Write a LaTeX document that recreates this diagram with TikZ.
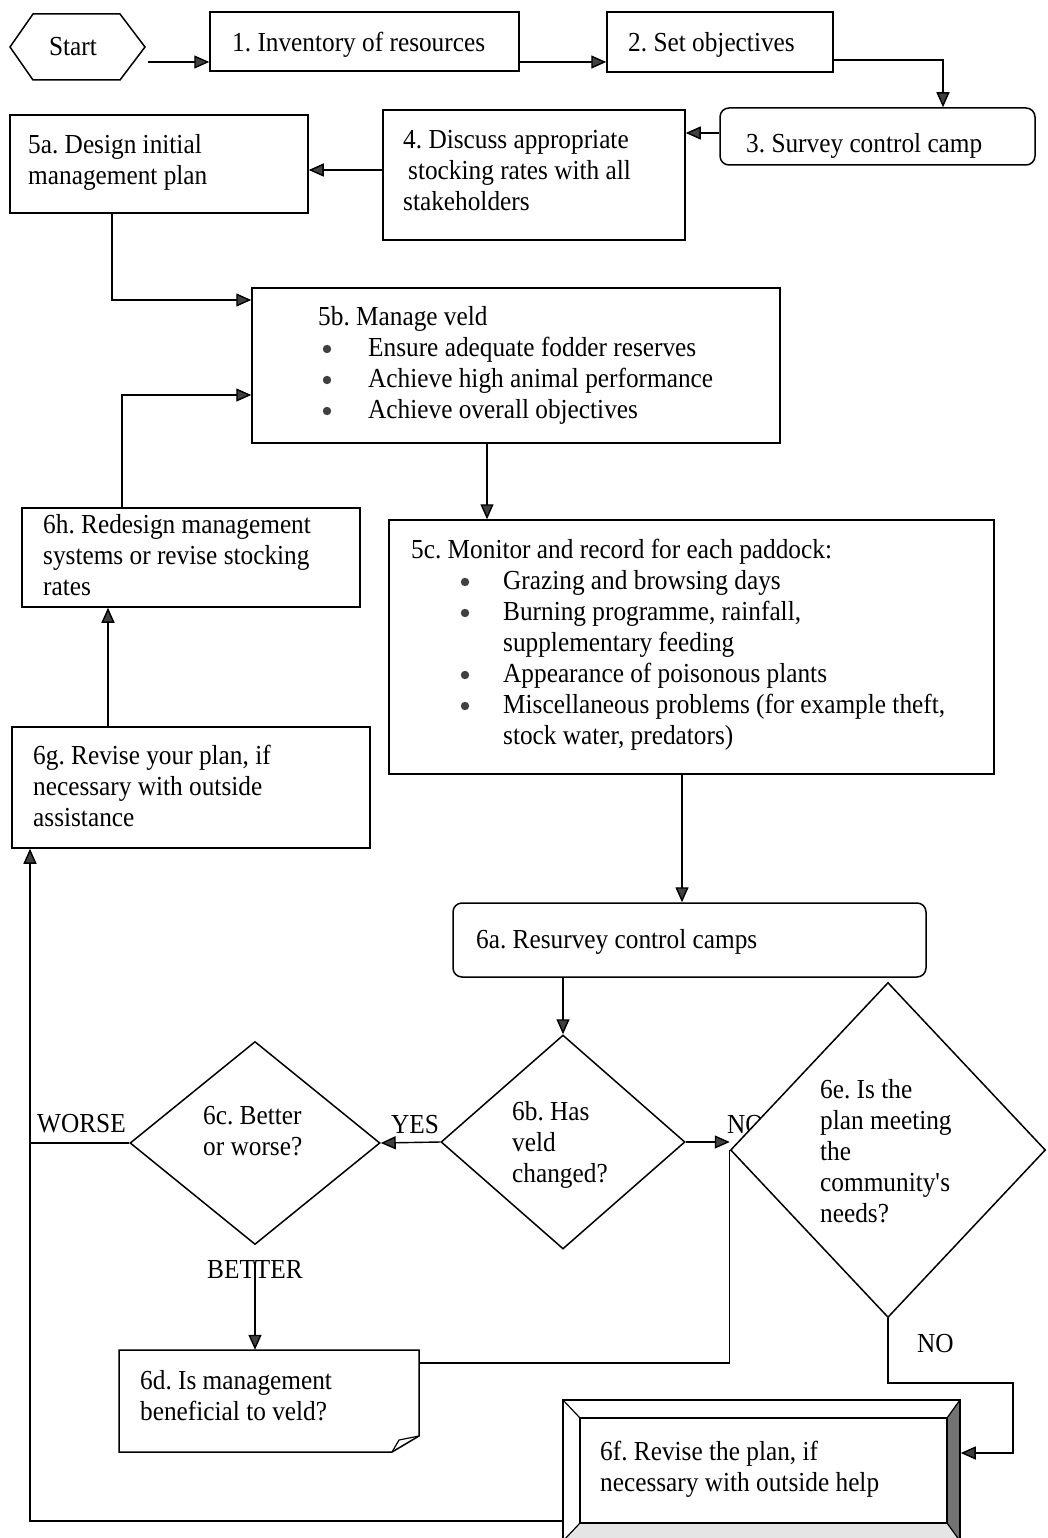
\documentclass[tikz,border=0pt]{standalone}
\usepackage{fontspec}
\setmainfont[FakeStretch=0.92]{Liberation Serif}
\usetikzlibrary{shapes.geometric,arrows.meta,fit}
\begin{document}
\frenchspacing
\begin{tikzpicture}[x=1pt,y=-1pt,
  box/.style={draw, line width=1.5pt, inner sep=0pt},
  rbox/.style={box, rounded corners=9pt},
  dia/.style={diamond, draw, line width=1.5pt, inner sep=0pt, fill=white},
  txt/.style={anchor=north west, inner sep=0pt, align=left, font=\fontsize{27.5}{31}\selectfont\frenchspacing, yshift=21.7pt, execute at begin node=\strut},
  lbl/.style={anchor=base west, inner sep=0pt, font=\fontsize{27.5}{31}\selectfont},
  conn/.style={line width=1.4pt},
  arr/.style={conn, -{Triangle[length=15pt,width=13pt,fill=black!75]}},
  dot/.style={fill=black!75},
]
\useasboundingbox (0,0) rectangle (1047,1538);
\fill[white] (0,0) rectangle (1047,1538);

% Start
\draw[line width=1.5pt] (10,47) -- (33,14) -- (120,14) -- (145,47) -- (120,80) -- (33,80) -- cycle;
\node[inner sep=0pt, font=\fontsize{27.5}{31}\selectfont] (start) at (73,47) {Start};

% boxes
\node[box, fit={(210,12)(519,71)}] (n1) {};
\node[txt] at (232,51) {1. Inventory of resources};
\node[box, fit={(607,12)(833,72)}] (n2) {};
\node[txt] at (628,51) {2. Set objectives};
\node[rbox, fit={(720,108)(1035,165)}] (n3) {};
\node[txt] at (746,152) {3. Survey control camp};
\node[box, fit={(383,110)(685,240)}] (n4) {};
\node[txt] at (403,152) {4. Discuss appropriate\\\hspace*{5pt}stocking rates with all\\stakeholders};
\node[box, fit={(10,115)(308,213)}] (n5a) {};
\node[txt] at (28,156) {5a. Design initial\\management plan};
\node[box, fit={(252,288)(780,443)}] (n5b) {};
\node[txt] at (318,328) {5b. Manage veld\\
\hspace*{50pt}Ensure adequate fodder reserves\\
\hspace*{50pt}Achieve high animal performance\\
\hspace*{50pt}Achieve overall objectives};
\foreach \yy in {349,380,411} \fill[dot] (327,\yy) circle (4.2pt);
\node[box, fit={(22,508)(360,607)}] (n6h) {};
\node[txt] at (43,536) {6h. Redesign management\\systems or revise stocking\\rates};
\node[box, fit={(389,520)(994,774)}] (n5c) {};
\node[txt] at (411,561) {5c. Monitor and record for each paddock:\\
\hspace*{92pt}Grazing and browsing days\\
\hspace*{92pt}Burning programme, rainfall,\\
\hspace*{92pt}supplementary feeding\\
\hspace*{92pt}Appearance of poisonous plants\\
\hspace*{92pt}Miscellaneous problems (for example theft,\\
\hspace*{92pt}stock water, predators)};
\foreach \yy in {582,613,675,706} \fill[dot] (465,\yy) circle (4.2pt);
\node[box, fit={(12,727)(370,848)}] (n6g) {};
\node[txt] at (33,767) {6g. Revise your plan, if\\necessary with outside\\assistance};
\node[rbox, fit={(453,903)(926,977)}] (n6a) {};
\node[txt] at (476,948) {6a. Resurvey control camps};

% 6d folded note
\draw[line width=1.5pt] (119,1350) -- (419,1350) -- (419,1436) -- (392,1452) -- (119,1452) -- cycle;
\draw[line width=1.2pt] (419,1436) -- (399,1440) -- (392,1452);
\node[inner sep=0pt, fit={(119,1350)(419,1452)}] (n6d) {};
\node[txt] at (140,1392) {6d. Is management\\beneficial to veld?};

% 6f bevel box
\fill[black!55] (947,1418) -- (960,1400) -- (960,1541) -- (947,1523) -- cycle;
\fill[black!10] (580,1523) -- (947,1523) -- (960,1541) -- (563,1541) -- cycle;
\node[box, fit={(563,1400)(960,1541)}] (n6f) {};
\draw[line width=1.3pt] (580,1418) rectangle (947,1523);
\draw[line width=1.2pt] (563,1400) -- (580,1418) (960,1400) -- (947,1418) (563,1541) -- (580,1523) (960,1541) -- (947,1523);
\node[txt] at (600,1463) {6f. Revise the plan, if\\necessary with outside help};

% diamonds
\node[dia, minimum width=250pt, minimum height=203pt] (d6c) at (255,1143) {};
\node[txt] at (203,1128) {6c. Better\\or worse?};
\node[dia, minimum width=244pt, minimum height=214pt] (d6b) at (563,1142) {};
\node[txt] at (512,1123) {6b. Has\\veld\\changed?};
\node[lbl] at (727,1133) {NO};
\node[dia, minimum width=315pt, minimum height=335pt] (d6e) at (888,1150) {};
\node[txt] at (820,1101) {6e. Is the\\plan meeting\\the\\community\textquotesingle s\\needs?};

% labels
\node[lbl] at (37,1132) {WORSE};
\node[lbl] at (391,1133) {YES};
\node[lbl] at (207,1278) {BETTER};
\node[lbl] at (917,1352) {NO};

% connectors
\coordinate (ra) at (148,62);
\draw[arr] (ra) -- (n1.west |- ra);
\draw[arr] (n1.east |- ra) -- (n2.west |- ra);
\coordinate (rb) at (943,60);
\draw[arr] (n2.east |- rb) -| (n3.north -| rb);
\coordinate (rc) at (0,133);
\draw[arr] (n3.west |- rc) -- (n4.east |- rc);
\coordinate (rd) at (0,170);
\draw[arr] (n4.west |- rd) -- (n5a.east |- rd);
\coordinate (re) at (112,300);
\draw[arr] (n5a.south -| re) |- (n5b.west |- re);
\coordinate (rf) at (122,395);
\draw[arr] (n6h.north -| rf) |- (n5b.west |- rf);
\coordinate (rg) at (487,0);
\draw[arr] (n5b.south -| rg) -- (n5c.north -| rg);
\coordinate (rh) at (682,0);
\draw[arr] (n5c.south -| rh) -- (n6a.north -| rh);
\draw[arr] (n6a.south -| d6b.north) -- (d6b.north);
\draw[arr] (d6b.west) -- (d6c.east);
\draw[arr] (d6b.east) -- (d6b.east -| d6e.west);
\coordinate (rj) at (30,1521);
\draw[conn] (d6c.west) -- (d6c.west -| rj);
\draw[arr] (n6f.west |- rj) -| (n6g.south -| rj);
\coordinate (rk) at (0,1262);
\draw[arr] (d6c.south |- rk) -- (n6d.north -| d6c.south);
\coordinate (rl) at (0,1363);
\draw[conn] (n6d.east |- rl) -| (d6e.west);
\coordinate (rm) at (1013,1383);
\coordinate (rn) at (0,1453);
\draw[arr] (d6e.south) |- (rm) |- (n6f.east |- rn);
\coordinate (ro) at (108,0);
\draw[arr] (n6g.north -| ro) -- (n6h.south -| ro);
\end{tikzpicture}
\end{document}
